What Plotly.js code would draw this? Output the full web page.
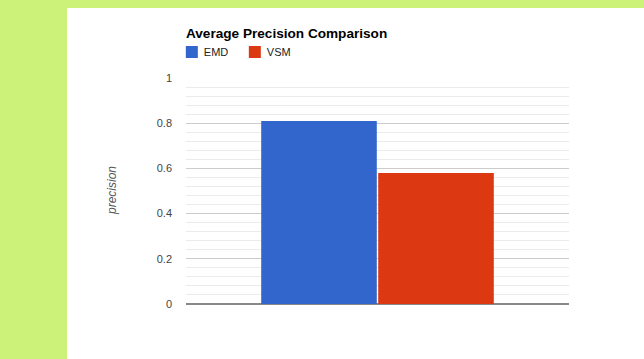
<!DOCTYPE html>
<html>
<head>
<meta charset="utf-8">
<script src="https://cdn.plot.ly/plotly-3.0.1.min.js"></script>
<style>
  html, body { margin: 0; padding: 0; background: #cdf27a; width: 644px; height: 359px; overflow: hidden; }
  #chart { position: absolute; left: 67px; top: 8px; width: 577px; height: 351px; background: #fff; }
</style>
</head>
<body>
<div id="chart"></div>
<script>
const categories = ['Average Precision'];
const seriesNames = ['EMD', 'VSM'];
const emdValues = [0.81];
const vsmValues = [0.58];
const yTickVals = [0, 0.2, 0.4, 0.6, 0.8, 1];
const yTickText = ['0', '0.2', '0.4', '0.6', '0.8', '1'];
const colors = ['#3366cc', '#dc3912'];

const FONT = 'Arial, "Liberation Sans", sans-serif';

const traces = [
  { type: 'bar', name: seriesNames[0], x: categories, y: emdValues,
    marker: { color: colors[0], line: { width: 0 } }, hoverinfo: 'none' },
  { type: 'bar', name: seriesNames[1], x: categories, y: vsmValues,
    marker: { color: colors[1], line: { width: 0 } }, hoverinfo: 'none' }
];

const layout = {
  width: 577, height: 351,
  margin: { l: 119, r: 75, t: 70, b: 55, pad: 0 },
  paper_bgcolor: '#ffffff', plot_bgcolor: '#ffffff',
  font: { family: FONT, size: 11, color: '#444' },
  barmode: 'group', bargap: 0.389, bargroupgap: 0.012,
  title: { text: '<b>Average Precision Comparison</b>', font: { family: FONT, size: 13.6, color: '#000' },
           x: 0, xref: 'paper', xanchor: 'left', y: 1 - 25 / 351, yref: 'container', yanchor: 'middle' },
  showlegend: true,
  legend: { orientation: 'h', x: -0.037, xanchor: 'left', y: 1.115, yanchor: 'middle',
            font: { family: FONT, size: 11, color: '#222' }, entrywidth: 18, itemclick: false,
            bgcolor: 'rgba(0,0,0,0)' },
  xaxis: { showticklabels: false, showgrid: false, zeroline: false, showline: false, ticks: '', range: [-0.5, 0.5], fixedrange: true },
  yaxis: { range: [0, 1], tickvals: yTickVals, ticktext: yTickText, showgrid: true, gridcolor: '#cccccc', gridwidth: 1,
           minor: { dtick: 0.04, showgrid: true, gridcolor: '#ebebeb', gridwidth: 1 },
           zeroline: true, zerolinecolor: '#888888', zerolinewidth: 1.5, showline: false, ticks: '',
           ticklabelstandoff: 13, tickfont: { family: FONT, size: 11, color: '#444' }, fixedrange: true },
  annotations: [
    { text: '<i>precision</i>', xref: 'paper', yref: 'paper', x: 0, y: 0.5, xanchor: 'center', yanchor: 'middle',
      xshift: -74, textangle: -90, showarrow: false, font: { family: FONT, size: 12, color: '#555' } }
  ]
};

Plotly.newPlot('chart', traces, layout, { displayModeBar: false, staticPlot: true }).then(function () {
  // pull legend labels closer to their swatches, as in the reference
  document.querySelectorAll('#chart .legendtext').forEach(function (t) {
    const x = parseFloat(t.getAttribute('x')) || 0;
    t.setAttribute('x', x - 8);
  });
});
</script>
</body>
</html>
